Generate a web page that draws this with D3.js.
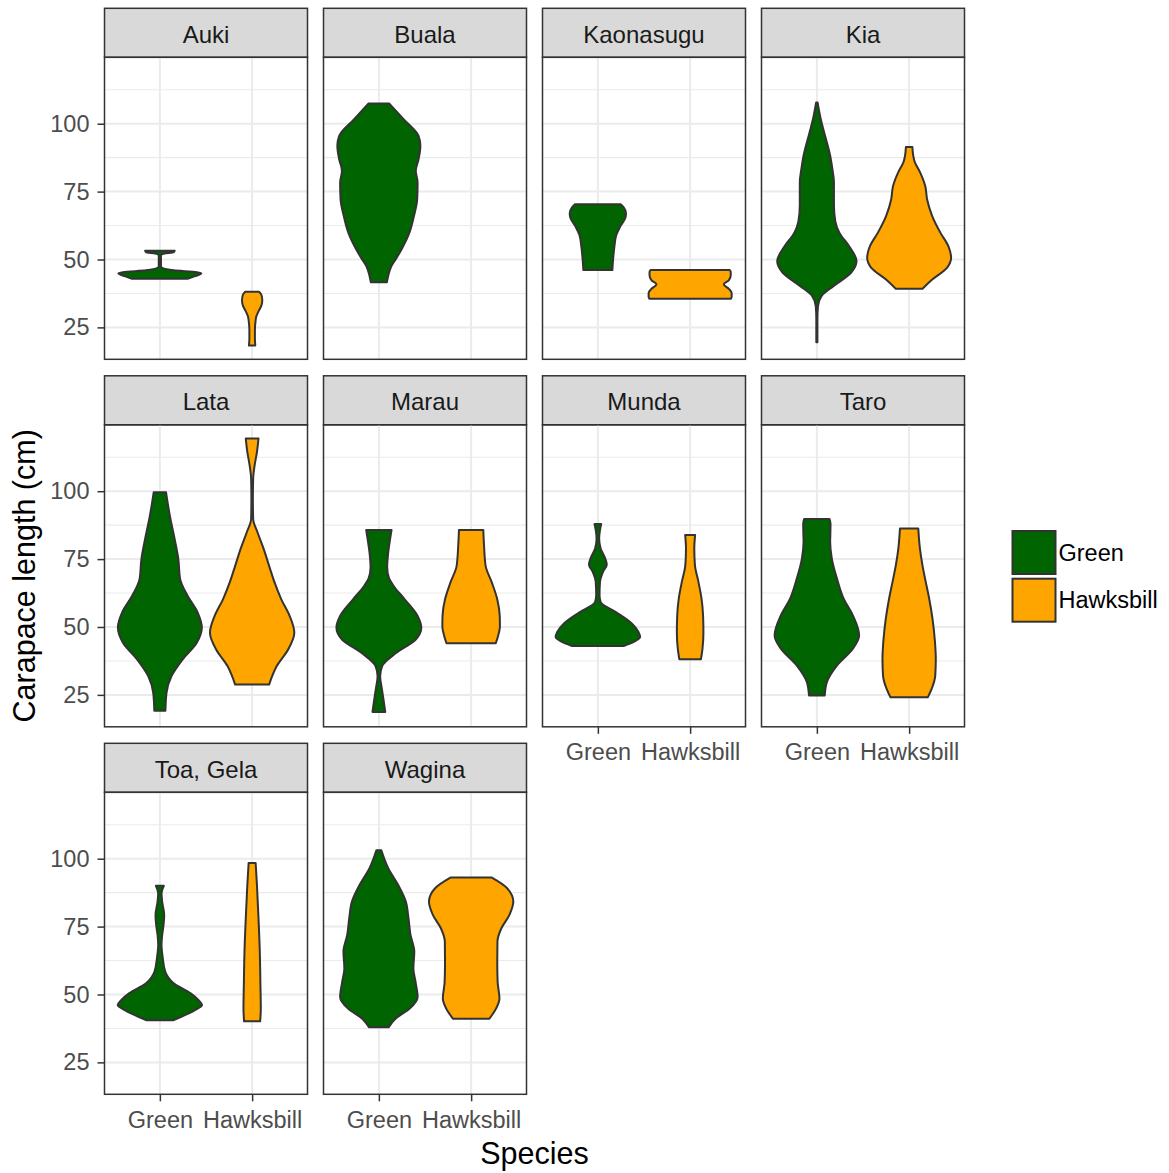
<!DOCTYPE html>
<html>
<head>
<meta charset="utf-8">
<script src="https://cdn.jsdelivr.net/npm/d3@7"></script>
<style>
  body { margin: 0; background: #fff; }
  text { font-family: "Liberation Sans", Arial, sans-serif; }
</style>
</head>
<body>
<div id="chart"></div>
<script>
// facets, in reading order
var sites = ["Auki", "Buala", "Kaonasugu", "Kia", "Lata", "Marau", "Munda", "Taro", "Toa, Gela", "Wagina"];
var species = ["Green", "Hawksbill"];
var speciesColours = ["#006400", "#FFA500"];
var yTicks = [25, 50, 75, 100];
var yMinorTicks = [37.5, 62.5, 87.5, 112.5];

// violin outlines
// each point: [carapace length (cm), half width in x units]
var aukiGreen = [[42.9,0.30],[43.6,0.36],[44.2,0.41],[44.8,0.45],[45.3,0.40],[46.0,0.15],[46.8,0.03],[47.5,0.012],[51.5,0.012],[52.2,0.05],[52.7,0.15],[53.2,0.16]];
var aukiHawksbill = [[18.3,0.034],[21,0.03],[24,0.03],[27,0.036],[29,0.045],[31,0.07],[33,0.10],[35,0.11],[37,0.10],[38.1,0.075]];
var bualaGreen = [[41.6,0.087],[44.5,0.105],[47.5,0.135],[50.5,0.19],[53.7,0.245],[59.8,0.33],[66,0.38],[72.1,0.415],[78.3,0.42],[82.6,0.40],[86.9,0.43],[91.8,0.45],[95.5,0.43],[101.6,0.27],[107.4,0.114]];
var kaoGreen = [[46.1,0.157],[50,0.165],[55,0.18],[59,0.20],[62,0.24],[65.5,0.30],[67,0.305],[69.2,0.28],[70.3,0.25]];
var kaoHawksbill = [[35.5,0.44],[36.3,0.45],[37.7,0.45],[39.2,0.42],[40.8,0.365],[42.4,0.42],[44.2,0.44],[45.4,0.44],[46.1,0.43]];
var kiaGreen = [[19.5,0.006],[28,0.006],[32.8,0.012],[36.5,0.05],[40.2,0.18],[45.1,0.37],[49.4,0.43],[54.9,0.35],[59.8,0.245],[64,0.2],[70,0.185],[78.3,0.185],[84,0.165],[88.1,0.145],[96.7,0.08],[102,0.04],[107.8,0.008]];
var kiaHawksbill = [[39.2,0.145],[42.6,0.25],[46.9,0.41],[50.6,0.455],[54.9,0.425],[59.8,0.34],[66,0.25],[72.1,0.195],[77,0.175],[82,0.12],[86,0.06],[88.1,0.045],[91.4,0.035]];
var lataGreen = [[19.2,0.06],[25.7,0.072],[31.9,0.126],[38,0.245],[44.2,0.40],[49.8,0.455],[55.3,0.41],[61.5,0.30],[67.6,0.22],[75,0.2],[82.4,0.16],[91,0.108],[99.6,0.067]];
var lataHawksbill = [[28.8,0.184],[35.6,0.267],[41.7,0.39],[47.9,0.457],[54.1,0.406],[60.2,0.316],[66.4,0.243],[72.5,0.184],[78.7,0.126],[84.9,0.058],[89.8,0.011],[97.2,0.008],[104.6,0.011],[109.5,0.027],[114.4,0.052],[119.4,0.069]];
var marauGreen = [[18.7,0.069],[23.3,0.05],[26.9,0.034],[31.9,0.014],[35.6,0.036],[40.5,0.19],[45.4,0.40],[49.8,0.46],[54.1,0.42],[60.2,0.28],[65.1,0.16],[68,0.11],[72,0.09],[77,0.1],[82,0.12],[85.7,0.137]];
var marauHawksbill = [[44,0.267],[46.7,0.292],[50.4,0.312],[54.1,0.31],[60.2,0.283],[66.4,0.224],[72.5,0.157],[79.9,0.14],[85.7,0.132]];
var mundaGreen = [[43,0.28],[44.5,0.39],[46.3,0.458],[48.2,0.44],[51.2,0.37],[55.5,0.195],[59.2,0.03],[61.7,0.018],[66.6,0.023],[70.3,0.056],[73,0.097],[75.2,0.08],[78.9,0.03],[82.6,0.014],[85.7,0.023],[87.9,0.036]];
var mundaHawksbill = [[38.1,0.117],[42,0.134],[48.2,0.144],[54.3,0.14],[60.5,0.123],[66.6,0.09],[72.8,0.052],[78.9,0.045],[83.9,0.054]];
var taroGreen = [[24.8,0.085],[29.7,0.108],[35.8,0.217],[42,0.39],[46.9,0.458],[54.3,0.39],[60.5,0.289],[67.9,0.217],[75.2,0.162],[81.4,0.144],[84,0.146],[88,0.148],[89.8,0.137]];
var taroHawksbill = [[24.1,0.202],[27.2,0.244],[32.1,0.283],[38.3,0.289],[44.5,0.28],[53.1,0.253],[60.5,0.217],[66.6,0.18],[72.8,0.144],[78.9,0.117],[86.3,0.099]];
var toaGreen = [[40.5,0.144],[44.2,0.38],[46.1,0.457],[47.9,0.42],[50.4,0.334],[54.1,0.15],[58.4,0.058],[63.3,0.032],[68.2,0.018],[71.9,0.025],[75.6,0.04],[79.3,0.047],[84.2,0.025],[87.3,0.018],[90,0.043]];
var toaHawksbill = [[40.1,0.087],[44.8,0.094],[53.4,0.09],[65.8,0.083],[78.1,0.069],[90.4,0.052],[98.4,0.038]];
var waginaGreen = [[37.9,0.105],[41.1,0.18],[44.8,0.334],[49.1,0.42],[54.7,0.397],[59.6,0.374],[65.8,0.384],[71.9,0.343],[78.1,0.321],[84.2,0.292],[90.4,0.208],[96.6,0.1],[103.1,0.027]];
var waginaHawksbill = [[41.1,0.198],[44.8,0.27],[48.5,0.307],[54.7,0.287],[62.1,0.283],[69.5,0.285],[74.4,0.328],[79.3,0.415],[84.2,0.457],[89.2,0.388],[93.1,0.22]];

var violins = [
    { site: "Auki", species: "Green", shape: aukiGreen },
    { site: "Auki", species: "Hawksbill", shape: aukiHawksbill },
    { site: "Buala", species: "Green", shape: bualaGreen },
    { site: "Kaonasugu", species: "Green", shape: kaoGreen },
    { site: "Kaonasugu", species: "Hawksbill", shape: kaoHawksbill },
    { site: "Kia", species: "Green", shape: kiaGreen },
    { site: "Kia", species: "Hawksbill", shape: kiaHawksbill },
    { site: "Lata", species: "Green", shape: lataGreen },
    { site: "Lata", species: "Hawksbill", shape: lataHawksbill },
    { site: "Marau", species: "Green", shape: marauGreen },
    { site: "Marau", species: "Hawksbill", shape: marauHawksbill },
    { site: "Munda", species: "Green", shape: mundaGreen },
    { site: "Munda", species: "Hawksbill", shape: mundaHawksbill },
    { site: "Taro", species: "Green", shape: taroGreen },
    { site: "Taro", species: "Hawksbill", shape: taroHawksbill },
    { site: "Toa, Gela", species: "Green", shape: toaGreen },
    { site: "Toa, Gela", species: "Hawksbill", shape: toaHawksbill },
    { site: "Wagina", species: "Green", shape: waginaGreen },
    { site: "Wagina", species: "Hawksbill", shape: waginaHawksbill }
];

(function() {
    var width = 1169,
        height = 1173,
        ncol = 4,
        left = 104.5,
        top = 57.3,
        panelW = 203,
        panelH = 302,
        stripH = 49,
        colStep = 219,
        rowStep = 367.5,
        ink = "#333333";

    var svg = d3.select("#chart").append("svg")
        .attr("width", width).attr("height", height);

    svg.append("rect").attr("width", width).attr("height", height).attr("fill", "#fff");

    // ggplot style: data range plus 5% each side
    var allValues = [];
    violins.forEach(function(v) { v.shape.forEach(function(p) { allValues.push(p[0]); }); });
    var ext = d3.extent(allValues),
        pad = (ext[1] - ext[0]) * 0.05;

    var y = d3.scaleLinear().domain([ext[0] - pad, ext[1] + pad]).range([panelH, 0]);
    var x = d3.scalePoint().domain(species).range([0, panelW]).padding(0.6);
    var colour = d3.scaleOrdinal().domain(species).range(speciesColours);

    sites.forEach(function(site, k) {
        var col = k % ncol,
            row = Math.floor(k / ncol),
            g = svg.append("g")
                .attr("transform", "translate(" + (left + col * colStep) + "," + (top + row * rowStep) + ")");

        // strip
        g.append("rect")
            .attr("x", 0).attr("y", -stripH)
            .attr("width", panelW).attr("height", stripH)
            .attr("fill", "#D9D9D9").attr("stroke", ink).attr("stroke-width", 1.5);
        g.append("text")
            .attr("x", panelW / 2).attr("y", -stripH + 34.4)
            .attr("text-anchor", "middle")
            .attr("font-size", 24).attr("fill", "#1A1A1A")
            .text(site);

        // grid
        g.selectAll(".minor").data(yMinorTicks).enter().append("line")
            .attr("x1", 0).attr("x2", panelW)
            .attr("y1", function(d) { return y(d); }).attr("y2", function(d) { return y(d); })
            .attr("stroke", "#EBEBEB").attr("stroke-width", 1.1);
        g.selectAll(".major").data(yTicks).enter().append("line")
            .attr("x1", 0).attr("x2", panelW)
            .attr("y1", function(d) { return y(d); }).attr("y2", function(d) { return y(d); })
            .attr("stroke", "#EBEBEB").attr("stroke-width", 2);
        g.selectAll(".xmajor").data(species).enter().append("line")
            .attr("y1", 0).attr("y2", panelH)
            .attr("x1", function(d) { return x(d); }).attr("x2", function(d) { return x(d); })
            .attr("stroke", "#EBEBEB").attr("stroke-width", 2);

        // violins
        violins.filter(function(v) { return v.site === site; }).forEach(function(v) {
            var cx = x(v.species);
            var area = d3.area()
                .curve(d3.curveMonotoneY)
                .y(function(d) { return y(d[0]); })
                .x0(function(d) { return cx - d[1] * x.step(); })
                .x1(function(d) { return cx + d[1] * x.step(); });
            g.append("path")
                .attr("d", area(v.shape))
                .attr("fill", colour(v.species))
                .attr("stroke", ink).attr("stroke-width", 2)
                .attr("stroke-linejoin", "round");
        });

        // border
        g.append("rect")
            .attr("width", panelW).attr("height", panelH)
            .attr("fill", "none").attr("stroke", ink).attr("stroke-width", 1.5);

        // left axis on first column
        if (col === 0) {
            var ya = g.append("g").call(d3.axisLeft(y).tickValues(yTicks).tickSize(7).tickPadding(8));
            ya.select(".domain").remove();
            ya.selectAll("line").attr("stroke", ink).attr("stroke-width", 1.5);
            ya.selectAll("text").attr("font-size", 23.5).attr("fill", "#4D4D4D")
                .attr("font-family", "Liberation Sans, Arial, sans-serif");
        }

        // bottom axis where nothing sits below
        if (k + ncol >= sites.length) {
            var xa = g.append("g").attr("transform", "translate(0," + panelH + ")")
                .call(d3.axisBottom(x).tickSize(7).tickPadding(10));
            xa.select(".domain").remove();
            xa.selectAll("line").attr("stroke", ink).attr("stroke-width", 1.5);
            xa.selectAll("text").attr("font-size", 23.5).attr("fill", "#4D4D4D")
                .attr("font-family", "Liberation Sans, Arial, sans-serif");
        }
    });

    var panelsBottom = top + 2 * rowStep + panelH,
        panelsRight = left + 3 * colStep + panelW;

    // axis titles
    svg.append("text")
        .attr("transform", "translate(35," + ((top + panelsBottom) / 2) + ") rotate(-90)")
        .attr("text-anchor", "middle")
        .attr("font-size", 30.5).attr("fill", "#000")
        .text("Carapace length (cm)");
    svg.append("text")
        .attr("x", (left + panelsRight) / 2).attr("y", 1164)
        .attr("text-anchor", "middle")
        .attr("font-size", 30.5).attr("fill", "#000")
        .text("Species");

    // legend
    var legend = svg.append("g").attr("transform", "translate(1011.5,530)");
    var keys = legend.selectAll("g").data(species).enter().append("g")
        .attr("transform", function(d, i) { return "translate(0," + (i * 47.7) + ")"; });
    keys.append("rect")
        .attr("x", 1).attr("y", 1).attr("width", 43).attr("height", 43)
        .attr("fill", function(d) { return colour(d); })
        .attr("stroke", ink).attr("stroke-width", 2);
    keys.append("text")
        .attr("x", 47).attr("y", 22.5).attr("dy", "0.35em")
        .attr("font-size", 23.5).attr("fill", "#000")
        .text(function(d) { return d; });
})();
</script>
</body>
</html>
